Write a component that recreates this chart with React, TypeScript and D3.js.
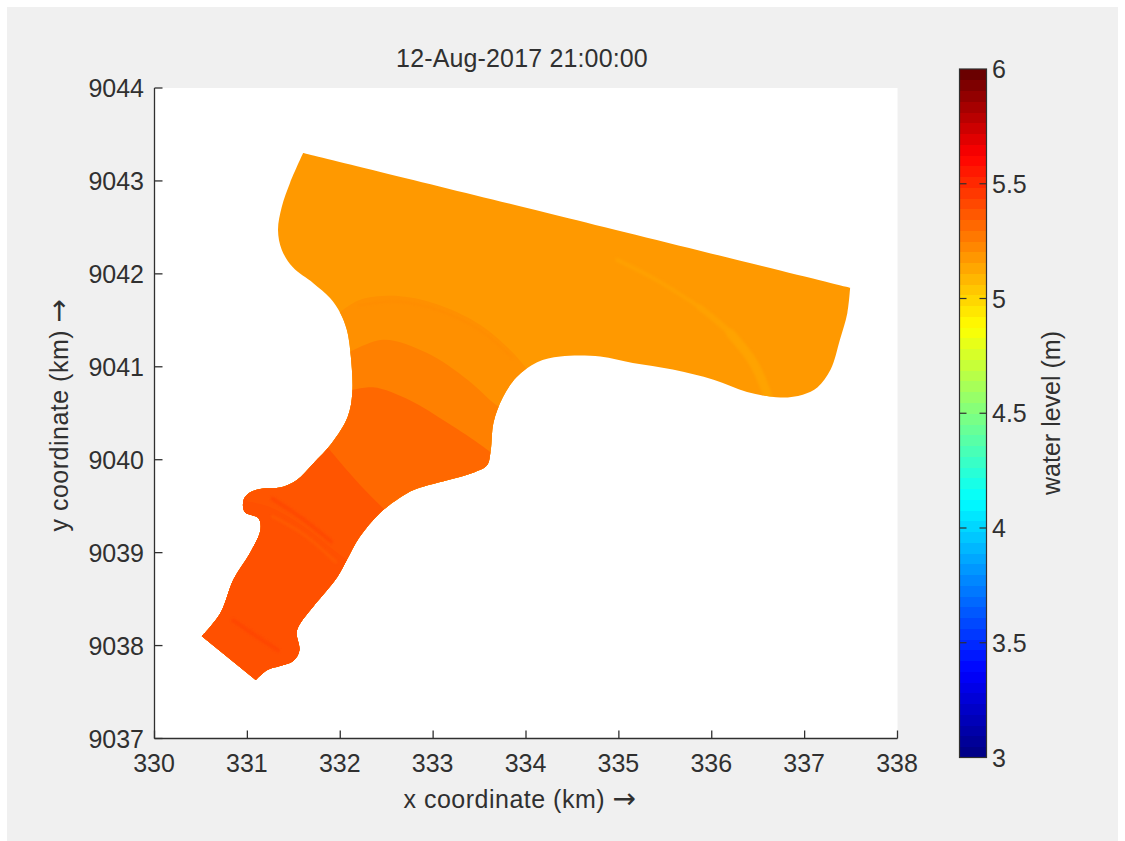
import React from "react";
import * as d3 from "d3";

const WIDTH = 1125;
const HEIGHT = 841;

const titleText = "12-Aug-2017 21:00:00";
const xLabel = "x coordinate (km) ";
const yLabel = "y coordinate (km) ";
const arrow = "\u2192";
const cbLabel = "water level (m)";
const xTicks = [330, 331, 332, 333, 334, 335, 336, 337, 338];
const yTicks = [9037, 9038, 9039, 9040, 9041, 9042, 9043, 9044];
const cbTicks = [3, 3.5, 4, 4.5, 5, 5.5, 6];
const cbTickLabels = ["3", "3.5", "4", "4.5", "5", "5.5", "6"];

// Jet colormap anchors (fraction of range, colour)
const jetStops = [0, 0.125, 0.375, 0.625, 0.875, 1];
const jetColors = ["#000080", "#0000ff", "#00ffff", "#ffff00", "#ff0000", "#600000"];

// Estuary outline in four pieces between its sharp corners, km
const shoreNorth: [number, number][] = [[331.6, 9043.3], [334.37, 9042.62], [337.49, 9041.85]];
const shoreEast: [number, number][] = [
  [337.49, 9041.85], [337.46, 9041.58], [337.38, 9041.29], [337.28, 9040.97],
  [337.14, 9040.78], [336.98, 9040.7], [336.74, 9040.67], [336.38, 9040.73], [336.02, 9040.86],
  [335.58, 9040.97], [335.15, 9041.04], [334.8, 9041.11], [334.37, 9041.11], [334.12, 9041.05],
  [333.9, 9040.89], [333.75, 9040.67], [333.65, 9040.4], [333.62, 9040.1], [333.58, 9039.94],
  [333.43, 9039.86], [333.15, 9039.78], [332.86, 9039.7], [332.72, 9039.64], [332.43, 9039.43],
  [332.21, 9039.17], [332.07, 9038.92], [331.97, 9038.74], [331.71, 9038.42], [331.57, 9038.24],
  [331.53, 9038.14], [331.56, 9037.95], [331.5, 9037.84], [331.35, 9037.78], [331.22, 9037.74],
  [331.09, 9037.63],
];
const shoreSouth: [number, number][] = [[331.09, 9037.63], [330.51, 9038.1]];
const shoreWest: [number, number][] = [
  [330.51, 9038.1], [330.71, 9038.35], [330.85, 9038.71], [331.03, 9039.0],
  [331.14, 9039.24], [331.12, 9039.37], [330.97, 9039.44], [330.96, 9039.57], [331.03, 9039.65],
  [331.17, 9039.69], [331.35, 9039.7], [331.53, 9039.78], [331.71, 9039.96], [331.91, 9040.18],
  [332.08, 9040.46], [332.13, 9040.72], [332.11, 9041.15], [332.07, 9041.4], [332.0, 9041.58],
  [331.89, 9041.74], [331.71, 9041.9], [331.49, 9042.07], [331.37, 9042.26], [331.33, 9042.47],
  [331.37, 9042.72], [331.46, 9042.98], [331.6, 9043.3],
];
const shores = [shoreNorth, shoreEast, shoreSouth, shoreWest];

// Water level of the open upper basin, m
const baseLevel = 5.175;

// Contour fronts (each level fills everything down-channel of its front)
const front1: [number, number][] = [[332.0, 9041.59], [332.21, 9041.72], [332.64, 9041.76], [333.08, 9041.66], [333.51, 9041.45], [333.83, 9041.18], [334.04, 9040.94]];
const front2: [number, number][] = [[332.05, 9041.13], [332.46, 9041.29], [332.93, 9041.15], [333.37, 9040.86], [333.65, 9040.61], [333.83, 9040.48]];
const front3: [number, number][] = [[332.05, 9040.73], [332.35, 9040.78], [332.75, 9040.64], [333.15, 9040.4], [333.54, 9040.14], [333.72, 9040.0]];
const front4: [number, number][] = [[331.84, 9040.16], [332.07, 9039.89], [332.27, 9039.67], [332.48, 9039.46], [332.64, 9039.3]];
const front5: [number, number][] = [[331.0, 9039.55], [331.22, 9039.5], [331.58, 9039.3], [331.94, 9039.02], [332.1, 9038.9]];
const frontLevels = [5.2, 5.25, 5.32, 5.375, 5.39];
const fronts = [front1, front2, front3, front4, front5];
// Corners that close each front's polygon, km
const closure: [number, number][] = [[334.6, 9037], [330, 9037], [330, 9041.3]];

// Thin streaks of slightly different level
const streakRightUpper: [number, number][] = [[334.98, 9042.15], [335.41, 9041.93], [335.87, 9041.64]];
const streakRightMid: [number, number][] = [[335.87, 9041.64], [336.2, 9041.36], [336.45, 9041.04]];
const streakRightLower: [number, number][] = [[336.2, 9041.36], [336.45, 9041.04], [336.6, 9040.7]];
const streakLow1: [number, number][] = [[331.27, 9039.58], [331.6, 9039.36], [331.9, 9039.12]];
const streakLow2: [number, number][] = [[331.27, 9039.39], [331.6, 9039.2], [331.95, 9038.9]];
const streakLow3: [number, number][] = [[330.85, 9038.27], [331.1, 9038.1], [331.33, 9037.95]];
const streakArc: [number, number][] = [[332.2, 9041.66], [332.64, 9041.7], [333.08, 9041.6], [333.51, 9041.39], [333.85, 9041.1]];
const streaks = [streakRightUpper, streakRightMid, streakRightLower, streakLow1, streakLow2, streakLow3, streakArc];
const streakLevels = [5.155, 5.15, 5.145, 5.41, 5.36, 5.42, 5.215];

const INK = "#303030";
const FONT = "'Liberation Sans', Arial, sans-serif";

export default function App() {
  const L = 154.5, R = 897.5, T = 88, B = 738.5;
  const x = d3.scaleLinear().domain([330, 338]).range([L, R]);
  const y = d3.scaleLinear().domain([9037, 9044]).range([B, T]);
  const cbL = 959.5, cbR = 986.5, cbT = 69, cbB = 757.5;
  const cbY = d3.scaleLinear().domain([3, 6]).range([cbB, cbT]);
  const jet = d3
    .scaleLinear<string>()
    .domain(jetStops.map((s) => 3 + s * 3))
    .range(jetColors)
    .interpolate(d3.interpolateRgb);

  const open = d3
    .line<[number, number]>()
    .x((d) => x(d[0]))
    .y((d) => y(d[1]))
    .curve(d3.curveCatmullRom.alpha(0.5));
  const straight = d3
    .line<[number, number]>()
    .x((d) => x(d[0]))
    .y((d) => y(d[1]));

  const outlinePath =
    shores
      .map((s, i) => {
        const d = open(s) || "";
        return i === 0 ? d : "L" + d.slice(1);
      })
      .join("") + "Z";

  const streakWidths = [4, 6, 9, 4, 3, 4, 1.5];
  const cbLevels = d3.range(64);
  const cbBand = d3.scaleBand<number>().domain(cbLevels).range([cbB, cbT]);

  const fontSize = 25;
  const arrowStyle = { fontFamily: "'DejaVu Sans'", fontSize: 28 };
  return (
    <svg
      width={WIDTH}
      height={HEIGHT}
      viewBox={`0 0 ${WIDTH} ${HEIGHT}`}
      style={{ position: "absolute", left: 0, top: 0, background: "#fff" }}
      fontFamily={FONT}
    >
      <defs>
        <clipPath id="estuary">
          <path d={outlinePath} />
        </clipPath>
        <filter id="soft" x="-20%" y="-20%" width="140%" height="140%">
          <feGaussianBlur stdDeviation="1.2" />
        </filter>
      </defs>
      <rect x={7} y={7} width={1111} height={834} fill="#f0f0f0" />
      <rect x={L} y={T} width={R - L} height={B - T} fill="#fff" />

      <path d={outlinePath} fill={jet(baseLevel)} />
      <g clipPath="url(#estuary)">
        {fronts.map((f, i) => {
          const arc = open(f) || "";
          const tail = straight(closure) || "";
          return <path key={i} d={`${arc}L${tail.slice(1)}Z`} fill={jet(frontLevels[i])} />;
        })}
        <g filter="url(#soft)">
          {streaks.map((s, i) => (
            <path
              key={i}
              d={open(s) || ""}
              fill="none"
              stroke={jet(streakLevels[i])}
              strokeWidth={streakWidths[i]}
              strokeLinecap="round"
            />
          ))}
        </g>
      </g>

      {/* axes */}
      <g stroke={INK} strokeWidth={1.3} fill="none">
        <line x1={L} x2={L} y1={T} y2={B} />
        <line x1={L} x2={R} y1={B} y2={B} />
        {xTicks.map((t) => (
          <line key={t} x1={x(t)} x2={x(t)} y1={B} y2={B - 8} />
        ))}
        {yTicks.map((t) => (
          <line key={t} x1={L} x2={L + 8} y1={y(t)} y2={y(t)} />
        ))}
      </g>
      <g fill={INK} fontSize={fontSize}>
        {xTicks.map((t) => (
          <text key={t} x={x(t) - 0.5} y={772} textAnchor="middle">
            {t}
          </text>
        ))}
        {yTicks.map((t) => (
          <text key={t} x={144} y={y(t) + 9} textAnchor="end">
            {t}
          </text>
        ))}
      </g>
      <g fill={INK} fontSize={fontSize}>
        <text x={522} y={67} textAnchor="middle" letterSpacing={0.15}>
          {titleText}
        </text>
        <text x={520} y={808} textAnchor="middle" letterSpacing={0.5}>
          {xLabel}
          <tspan style={arrowStyle}>{arrow}</tspan>
        </text>
        <text transform={`translate(68,415) rotate(-90)`} textAnchor="middle" letterSpacing={0.5}>
          {yLabel}
          <tspan style={arrowStyle}>{arrow}</tspan>
        </text>
        <text transform={`translate(1060,413) rotate(-90)`} textAnchor="middle">
          {cbLabel}
        </text>
      </g>

      {/* colour bar */}
      <g shapeRendering="crispEdges">
        {cbLevels.map((i) => (
          <rect
            key={i}
            x={cbL}
            width={cbR - cbL}
            y={cbBand(i)!}
            height={cbBand.bandwidth() + 0.5}
            fill={jet(3 + ((i + 0.5) / 64) * 3)}
          />
        ))}
      </g>
      <rect x={cbL} y={cbT} width={cbR - cbL} height={cbB - cbT} fill="none" stroke={INK} strokeWidth={1.2} />
      <g stroke={INK} strokeWidth={1.2}>
        {cbTicks.slice(1, -1).map((t) => (
          <g key={t}>
            <line x1={cbL} x2={cbL + 7} y1={cbY(t)} y2={cbY(t)} />
            <line x1={cbR - 7} x2={cbR} y1={cbY(t)} y2={cbY(t)} />
          </g>
        ))}
      </g>
      <g fill={INK} fontSize={fontSize}>
        {cbTicks.map((t, i) => (
          <text key={t} x={992} y={cbY(t) + 9} textAnchor="start">
            {cbTickLabels[i]}
          </text>
        ))}
      </g>
    </svg>
  );
}
